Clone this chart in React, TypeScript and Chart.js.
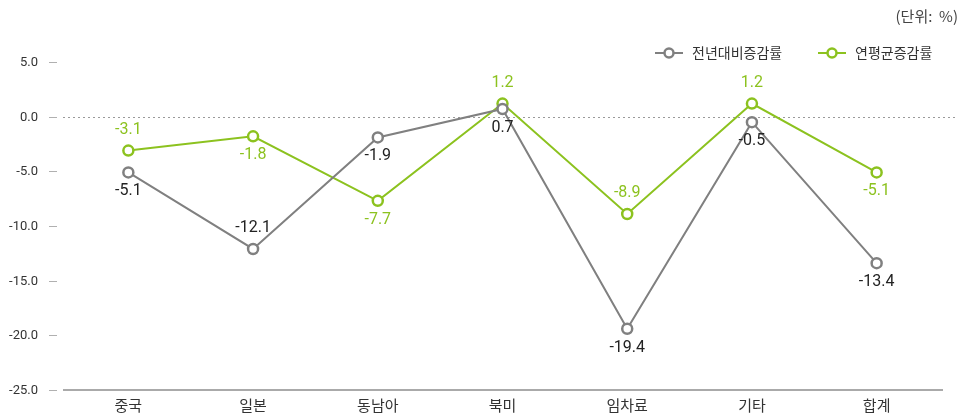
import React, { useEffect, useRef } from "react";
import { Chart, registerables } from "chart.js";

Chart.register(...registerables);

const categories = ["중국", "일본", "동남아", "북미", "임차료", "기타", "합계"];
const yoyValues = [-5.1, -12.1, -1.9, 0.7, -19.4, -0.5, -13.4];
const cagrValues = [-3.1, -1.8, -7.7, 1.2, -8.9, 1.2, -5.1];
// label placement: 1 = above the point, -1 = below
const yoyLabelSide = [-1, 1, -1, -1, -1, -1, -1];
const cagrLabelSide = [1, -1, -1, 1, 1, 1, -1];
const seriesNames = ["전년대비증감률", "연평균증감률"];
const unitText = "(단위:  %)";

const GRAY = "#808080";
const GREEN = "#8cc21f";
const NUM_FONT = "Roboto, 'Noto Sans CJK KR', sans-serif";
const KR_FONT = "'Noto Sans CJK KR', 'Noto Sans', sans-serif";

const decorPlugin = {
  id: "decor",
  beforeDatasetsDraw(chart: any) {
    const { ctx, scales } = chart;
    const y = scales.y;
    ctx.save();
    // y tick labels with short dashes beside them
    ctx.font = `13px ${NUM_FONT}`;
    ctx.textAlign = "right";
    ctx.textBaseline = "middle";
    y.ticks.forEach((t: any) => {
      const py = Math.round(y.getPixelForValue(t.value)) + 0.5;
      ctx.fillStyle = "#333333";
      ctx.fillText(Number(t.value).toFixed(1), 38, py);
      ctx.strokeStyle = "#b0b0b0";
      ctx.lineWidth = 1;
      ctx.beginPath();
      ctx.moveTo(49, py);
      ctx.lineTo(57, py);
      ctx.stroke();
    });
    // dotted zero line
    const zy = Math.round(y.getPixelForValue(0)) + 0.5;
    ctx.strokeStyle = "#9a9a9a";
    ctx.setLineDash([2, 3]);
    ctx.beginPath();
    ctx.moveTo(63, zy);
    ctx.lineTo(957, zy);
    ctx.stroke();
    ctx.setLineDash([]);
    // bottom axis line
    const by = Math.round(y.getPixelForValue(-25));
    ctx.strokeStyle = "#aaaaaa";
    ctx.lineWidth = 2;
    ctx.beginPath();
    ctx.moveTo(63, by);
    ctx.lineTo(943, by);
    ctx.stroke();
    ctx.restore();
  },
  afterDatasetsDraw(chart: any) {
    const { ctx } = chart;
    ctx.save();
    ctx.textAlign = "center";
    ctx.textBaseline = "middle";
    ctx.font = `16px ${NUM_FONT}`;
    const sides = [yoyLabelSide, cagrLabelSide];
    const colors = ["#222222", GREEN];
    chart.data.datasets.forEach((ds: any, di: number) => {
      const meta = chart.getDatasetMeta(di);
      meta.data.forEach((pt: any, i: number) => {
        const v = ds.data[i];
        const side = sides[di][i];
        ctx.fillStyle = colors[di];
        const off = side > 0 ? -21 : 19;
        ctx.fillText(v.toFixed(1), pt.x, pt.y + off);
      });
    });

    // unit text
    ctx.textAlign = "right";
    ctx.fillStyle = "#444444";
    ctx.font = `15px ${KR_FONT}`;
    ctx.fillText(unitText, 958, 16);

    // legend
    const items = [
      { x: 655, color: GRAY, text: seriesNames[0] },
      { x: 818, color: GREEN, text: seriesNames[1] },
    ];
    const ly = 53;
    items.forEach((it) => {
      ctx.strokeStyle = it.color;
      ctx.lineWidth = 2;
      ctx.beginPath();
      ctx.moveTo(it.x, ly);
      ctx.lineTo(it.x + 28, ly);
      ctx.stroke();
      ctx.beginPath();
      ctx.arc(it.x + 14, ly, 4.5, 0, Math.PI * 2);
      ctx.fillStyle = "#ffffff";
      ctx.fill();
      ctx.lineWidth = 2.5;
      ctx.stroke();
      ctx.fillStyle = "#333333";
      ctx.textAlign = "left";
      ctx.font = `14px ${KR_FONT}`;
      ctx.fillText(it.text, it.x + 37, ly);
    });
    ctx.restore();
  },
};

export default function App() {
  const canvasRef = useRef<HTMLCanvasElement | null>(null);

  useEffect(() => {
    if (!canvasRef.current) return;
    const chart = new Chart(canvasRef.current, {
      type: "line",
      data: {
        labels: categories,
        datasets: [
          {
            label: seriesNames[0],
            data: yoyValues,
            borderColor: GRAY,
            backgroundColor: "#ffffff",
            borderWidth: 2,
            pointRadius: 5,
            pointBorderWidth: 2.5,
            pointBackgroundColor: "#ffffff",
            pointBorderColor: GRAY,
            tension: 0,
          },
          {
            label: seriesNames[1],
            data: cagrValues,
            borderColor: GREEN,
            backgroundColor: "#ffffff",
            borderWidth: 2,
            pointRadius: 5,
            pointBorderWidth: 2.5,
            pointBackgroundColor: "#ffffff",
            pointBorderColor: GREEN,
            tension: 0,
          },
        ],
      },
      options: {
        animation: false,
        responsive: true,
        maintainAspectRatio: false,
        layout: { padding: { top: 62, right: 26, left: 0, bottom: 0 } },
        plugins: {
          legend: { display: false },
          tooltip: { enabled: false },
        },
        scales: {
          x: {
            offset: true,
            grid: { display: false, drawTicks: false },
            border: { display: false },
            ticks: {
              color: "#333333",
              font: { family: KR_FONT, size: 15 },
              padding: 6,
            },
            afterFit(scale: any) {
              scale.height = 29;
            },
          },
          y: {
            min: -25,
            max: 5,
            grid: { display: false, drawTicks: false },
            border: { display: false },
            ticks: { stepSize: 5, display: false },
            afterFit(scale: any) {
              scale.width = 66;
            },
          },
        },
      },
      plugins: [decorPlugin],
    });
    return () => chart.destroy();
  }, []);

  return (
    <div style={{ position: "fixed", left: 0, top: 0, width: 965, height: 419, background: "#fff" }}>
      <canvas ref={canvasRef} />
    </div>
  );
}
